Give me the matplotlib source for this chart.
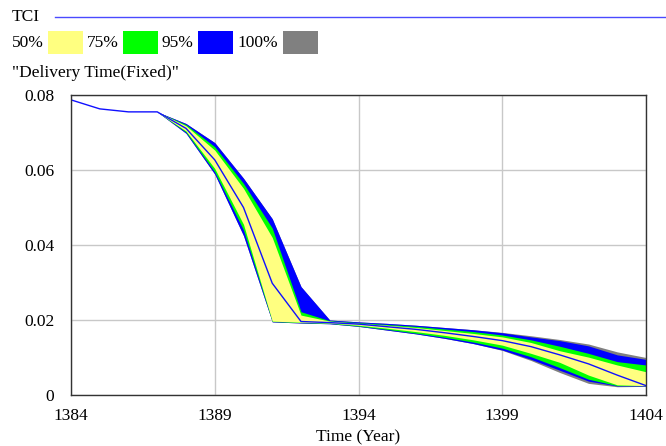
#!/usr/bin/env python3
"""Sensitivity graph of delivery time with confidence bands."""

import matplotlib
matplotlib.use('Agg')
import matplotlib.pyplot as plt
import matplotlib.patches as mpatches
from matplotlib.lines import Line2D

plt.rcParams['font.family'] = 'Liberation Serif'

years = list(range(1384, 1405))

tci = [0.0787, 0.0763, 0.0755, 0.0755, 0.0711, 0.0627, 0.0500, 0.0298, 0.0196, 0.0193,
       0.0189, 0.0182, 0.0175, 0.0166, 0.0156, 0.0145, 0.0129, 0.0107, 0.0083, 0.0053, 0.0025]

p50_hi = [0.0787, 0.0763, 0.0755, 0.0755, 0.0718, 0.0653, 0.0551, 0.0420, 0.0213, 0.0197,
          0.0191, 0.0186, 0.0180, 0.0172, 0.0164, 0.0155, 0.0140, 0.0118, 0.0101, 0.0080, 0.0062]
p50_lo = [0.0787, 0.0763, 0.0755, 0.0755, 0.0704, 0.0604, 0.0455, 0.0197, 0.0194, 0.0192,
          0.0186, 0.0178, 0.0169, 0.0159, 0.0147, 0.0133, 0.0111, 0.0087, 0.0053, 0.0027, 0.0025]

p75_hi = [0.0787, 0.0763, 0.0755, 0.0755, 0.0721, 0.0662, 0.0564, 0.0445, 0.0222, 0.0198,
          0.0193, 0.0188, 0.0183, 0.0176, 0.0169, 0.0160, 0.0147, 0.0130, 0.0111, 0.0089, 0.0080]
p75_lo = [0.0787, 0.0763, 0.0755, 0.0755, 0.0701, 0.0595, 0.0440, 0.0196, 0.0193, 0.0191,
          0.0184, 0.0175, 0.0165, 0.0154, 0.0141, 0.0125, 0.0102, 0.0073, 0.0042, 0.0025, 0.0025]

p95_hi = [0.0787, 0.0763, 0.0755, 0.0755, 0.0724, 0.0673, 0.0578, 0.0470, 0.0289, 0.0200,
          0.0195, 0.0191, 0.0186, 0.0180, 0.0174, 0.0166, 0.0155, 0.0145, 0.0131, 0.0107, 0.0095]
p95_lo = [0.0787, 0.0763, 0.0755, 0.0755, 0.0698, 0.0589, 0.0425, 0.0195, 0.0192, 0.0190,
          0.0183, 0.0173, 0.0163, 0.0151, 0.0137, 0.0120, 0.0095, 0.0066, 0.0037, 0.0024, 0.0024]

p100_hi = [0.0787, 0.0763, 0.0755, 0.0755, 0.0724, 0.0673, 0.0578, 0.0470, 0.0289, 0.0200,
           0.0195, 0.0191, 0.0186, 0.0180, 0.0174, 0.0167, 0.0158, 0.0148, 0.0136, 0.0115, 0.0100]
p100_lo = [0.0787, 0.0763, 0.0755, 0.0755, 0.0698, 0.0589, 0.0425, 0.0195, 0.0192, 0.0190,
           0.0183, 0.0173, 0.0163, 0.0151, 0.0137, 0.0119, 0.0092, 0.0060, 0.0031, 0.0022, 0.0023]

band_labels = ['50%', '75%', '95%', '100%']
band_colors = ['#ffff80', '#00ff00', '#0000ff', '#808080']

fig = plt.figure(figsize=(6.66, 4.46), dpi=100)
ax = fig.add_axes([71 / 666, 51 / 446, 575 / 666, 300 / 446])

# bands, widest first
ax.fill_between(years, p100_lo, p100_hi, color=band_colors[3], lw=0)
ax.fill_between(years, p95_lo, p95_hi, color=band_colors[2], lw=0)
ax.fill_between(years, p75_lo, p75_hi, color=band_colors[1], lw=0)
ax.fill_between(years, p50_lo, p50_hi, color=band_colors[0], lw=0)
ax.plot(years, tci, color='#1010ff', lw=1)

ax.set_xlim(1384, 1404)
ax.set_ylim(0, 0.08)
ax.set_xticks([1384, 1389, 1394, 1399, 1404])
ax.set_yticks([0, 0.02, 0.04, 0.06, 0.08])
ax.set_yticklabels(['0', '0.02', '0.04', '0.06', '0.08'])
ax.grid(True, color='#c8c8c8', lw=1)
ax.set_axisbelow(True)
ax.tick_params(axis='both', length=0, labelsize=12.5)
ax.tick_params(axis='x', pad=9)
ax.tick_params(axis='y', pad=12)
for lab in ax.get_xticklabels():
    lab.set_bbox(dict(facecolor='white', edgecolor='none', pad=1))
for sp in ax.spines.values():
    sp.set_color('#333333')
    sp.set_linewidth(1)
ax.set_xlabel('Time (Year)', fontsize=12.5, labelpad=4)

# header legend
fig.text(12 / 666, 1 - 17 / 446, 'TCI', fontsize=12.5, va='center', ha='left')
fig.add_artist(Line2D([55 / 666, 1.0], [1 - 17 / 446] * 2, color='#4a4aff', lw=1))

label_x = [12, 87, 162, 237]
sw_x = [48, 123, 198, 283]
for lab, col, lx, sx in zip(band_labels, band_colors, label_x, sw_x):
    fig.text(lx / 666, 1 - 43 / 446, lab, fontsize=12.5, va='center', ha='left')
    fig.add_artist(mpatches.Rectangle((sx / 666, 1 - 54 / 446), 35 / 666, 23 / 446,
                                      facecolor=col, edgecolor='none',
                                      transform=fig.transFigure))

fig.text(12 / 666, 1 - 73 / 446, '"Delivery Time(Fixed)"', fontsize=12.5,
         va='center', ha='left')

plt.savefig('out.png', dpi=100, facecolor='white')
plt.close()
